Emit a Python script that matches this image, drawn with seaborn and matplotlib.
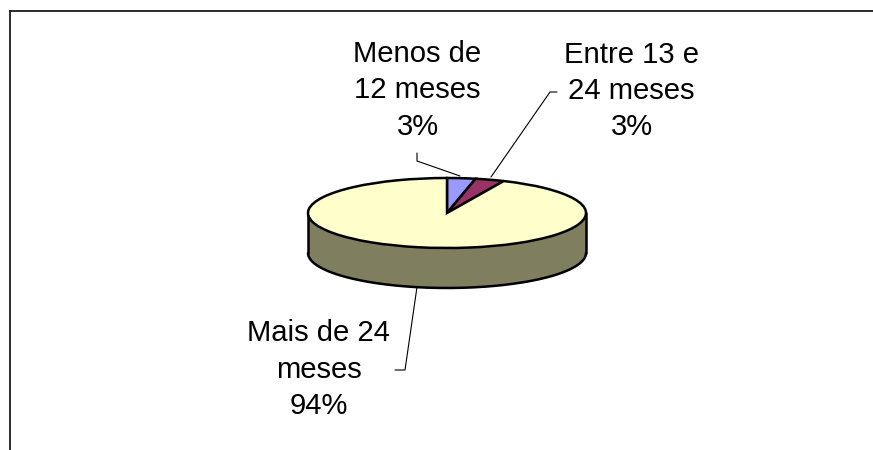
import numpy as np
import matplotlib
matplotlib.use("Agg")
import matplotlib.pyplot as plt
import seaborn as sns

categories = ["Menos de\n12 meses", "Entre 13 e\n24 meses", "Mais de 24\nmeses"]
values = [3.3, 3.4, 93.5]
pct_labels = ["3%", "3%", "94%"]
top_colors = ["#9999FF", "#993366", "#FFFFCC"]
side_color = "#7F7F60"

sns.set_theme(style="white")
plt.rcParams["font.family"] = ["Liberation Sans", "DejaVu Sans"]

W, H = 873, 450
CX, CY, RX, RY, DEPTH = 447, 213, 139, 35, 40

fig = plt.figure(figsize=(W / 100, H / 100), dpi=100, facecolor="white")
ax = fig.add_axes([0, 0, 1, 1])


def ux(px):
    return (px - CX) / RX


def uy(py):
    return (CY - py) / RY


# side of the disc
t = np.linspace(np.pi, 2 * np.pi, 300)
x = np.cos(t)
y = np.sin(t)
d = DEPTH / RY
ax.fill_between(x, y, y - d, color=side_color, linewidth=0, zorder=1)
ax.plot(x, y - d, color="black", lw=1.8, zorder=2)
ax.plot([-1, -1], [0, -d], color="black", lw=1.8, zorder=2)
ax.plot([1, 1], [0, -d], color="black", lw=1.8, zorder=2)

# top of the disc
wedges, _ = ax.pie(values, colors=top_colors, startangle=90, counterclock=False,
                   radius=1, wedgeprops=dict(edgecolor="black", linewidth=1.8, zorder=3))
ax.set_aspect("auto")
ax.set_xlim(ux(0), ux(W))
ax.set_ylim(uy(H), uy(0))
ax.axis("off")

# frame
frame_color = "#1a1a1a"
ax.plot([ux(10.5), ux(10.5)], [uy(H), uy(10.5)], color=frame_color, lw=1.3, zorder=1,
        solid_capstyle="projecting")
ax.plot([ux(10.5), ux(W)], [uy(10.5), uy(10.5)], color=frame_color, lw=1.3, zorder=1,
        solid_capstyle="projecting")

# labels
label_xy = [(417.5, 90.5), (631.5, 91), (318.5, 369.5)]
for (lx, ly), cat, pct in zip(label_xy, categories, pct_labels):
    ax.text(ux(lx), uy(ly), f"{cat}\n{pct}", ha="center", va="center", fontsize=21.1,
            color="black", linespacing=1.37, zorder=5)

# leader lines
leaders = [
    ([417, 417, 460], [153, 161, 176]),
    ([491, 550, 557], [177, 92, 92]),
    ([417, 405, 395], [287, 370, 370]),
]
for lxs, lys in leaders:
    ax.plot([ux(v) for v in lxs], [uy(v) for v in lys], color="black", lw=0.8, zorder=2)

fig.savefig("out.png", dpi=100)
